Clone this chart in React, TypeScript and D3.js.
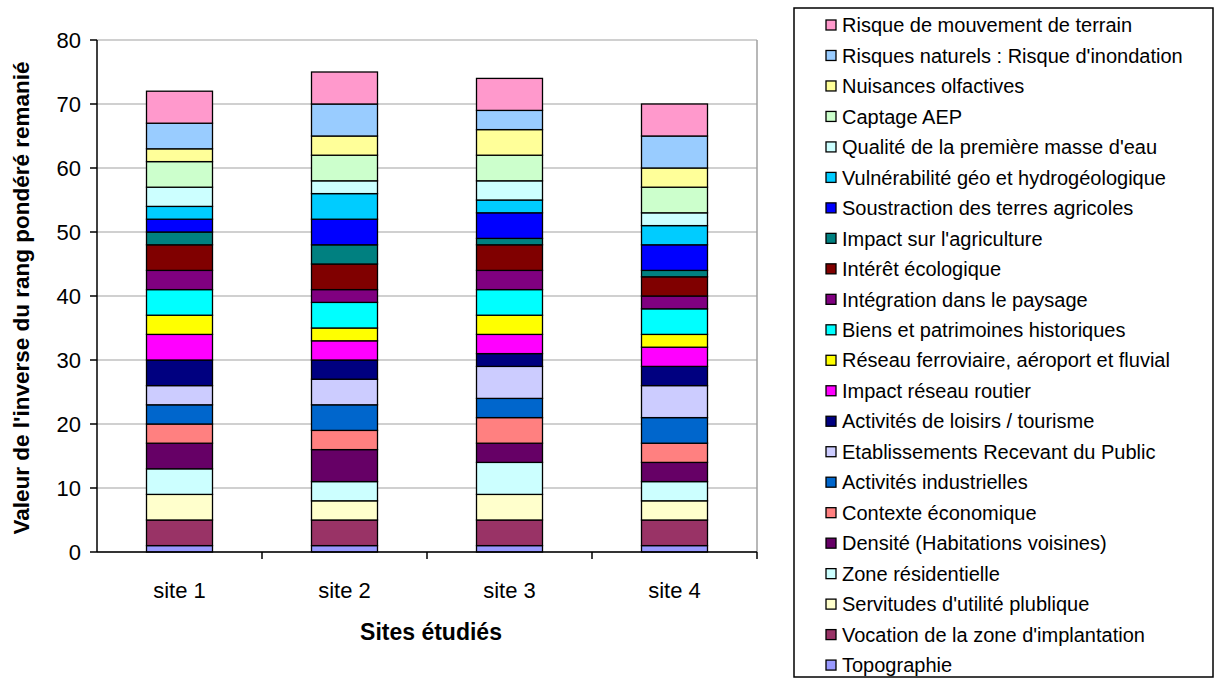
import React from "react";
import * as d3 from "d3";

const sites = ["site 1", "site 2", "site 3", "site 4"];

// bottom-to-top stacking order
const seriesNames = [
  "Topographie",
  "Vocation de la zone d'implantation",
  "Servitudes d'utilité plublique",
  "Zone résidentielle",
  "Densité (Habitations voisines)",
  "Contexte économique",
  "Activités industrielles",
  "Etablissements Recevant du Public",
  "Activités de loisirs / tourisme",
  "Impact réseau routier",
  "Réseau ferroviaire, aéroport et fluvial",
  "Biens et patrimoines historiques",
  "Intégration dans le paysage",
  "Intérêt écologique",
  "Impact sur l'agriculture",
  "Soustraction des terres agricoles",
  "Vulnérabilité géo et hydrogéologique",
  "Qualité de la première masse d'eau",
  "Captage AEP",
  "Nuisances olfactives",
  "Risques naturels : Risque d'inondation",
  "Risque de mouvement de terrain",
];

const seriesColors = [
  "#9999FF", "#993366", "#FFFFCC", "#CCFFFF", "#660066", "#FF8080",
  "#0066CC", "#CCCCFF", "#000080", "#FF00FF", "#FFFF00", "#00FFFF",
  "#800080", "#800000", "#008080", "#0000FF", "#00CCFF", "#CCFFFF",
  "#CCFFCC", "#FFFF99", "#99CCFF", "#FF99CC",
];

// values per series: [site 1, site 2, site 3, site 4]
const site1 = [1, 4, 4, 4, 4, 3, 3, 3, 4, 4, 3, 4, 3, 4, 2, 2, 2, 3, 4, 2, 4, 5];
const site2 = [1, 4, 3, 3, 5, 3, 4, 4, 3, 3, 2, 4, 2, 4, 3, 4, 4, 2, 4, 3, 5, 5];
const site3 = [1, 4, 4, 5, 3, 4, 3, 5, 2, 3, 3, 4, 3, 4, 1, 4, 2, 3, 4, 4, 3, 5];
const site4 = [1, 4, 3, 3, 3, 3, 4, 5, 3, 3, 2, 4, 2, 3, 1, 4, 3, 2, 4, 3, 5, 5];

const yTicks = [0, 10, 20, 30, 40, 50, 60, 70, 80];

const W = 1218;
const H = 678;
const plot = { left: 97, right: 757, top: 40, bottom: 552 };
const FONT = "'Liberation Sans', Arial, sans-serif";

export default function App() {
  const rows = sites.map((s, i) => {
    const vals = [site1, site2, site3, site4][i];
    const r: Record<string, any> = { site: s };
    seriesNames.forEach((n, j) => (r[n] = vals[j]));
    return r;
  });
  const stack = d3.stack<any>().keys(seriesNames)(rows);

  const x = d3
    .scaleBand<string>()
    .domain(sites)
    .range([plot.left, plot.right])
    .paddingInner(0.6)
    .paddingOuter(0.3);
  const band = (plot.right - plot.left) / sites.length;
  const y = d3.scaleLinear().domain([0, 80]).range([plot.bottom, plot.top]);

  const legendTop = 25;
  const legendStep = 30.48;
  const legendOrder = seriesNames.map((n, i) => i).reverse();

  return (
    <div style={{ position: "fixed", left: 0, top: 0 }}>
      <svg width={W} height={H} style={{ display: "block", background: "#fff" }} fontFamily={FONT}>
        {/* gridlines */}
        {yTicks.map((t) => (
          <line key={"g" + t} x1={plot.left} x2={plot.right} y1={y(t)} y2={y(t)} stroke="#C0C0C0" strokeWidth={1.5} />
        ))}
        <line x1={plot.right} x2={plot.right} y1={plot.top} y2={plot.bottom} stroke="#A0A0A0" strokeWidth={1.5} />
        {/* bars */}
        {stack.map((layer, li) => (
          <g key={li}>
            {layer.map((d, di) => (
              <rect
                key={di}
                x={x(sites[di])}
                width={x.bandwidth()}
                y={y(d[1])}
                height={y(d[0]) - y(d[1])}
                fill={seriesColors[li]}
                stroke="#000"
                strokeWidth={1.3}
              />
            ))}
          </g>
        ))}
        {/* axes */}
        <line x1={plot.left} x2={plot.left} y1={plot.top} y2={plot.bottom} stroke="#000" strokeWidth={1.5} />
        <line x1={plot.left} x2={plot.right} y1={plot.bottom} y2={plot.bottom} stroke="#000" strokeWidth={1.5} />
        {yTicks.map((t) => (
          <g key={"t" + t}>
            <line x1={plot.left - 7} x2={plot.left} y1={y(t)} y2={y(t)} stroke="#000" strokeWidth={1.5} />
            <text x={plot.left - 16} y={y(t)} dy="0.36em" textAnchor="end" fontSize={22}>
              {t}
            </text>
          </g>
        ))}
        {sites.map((s, i) => (
          <g key={s}>
            <line
              x1={plot.left + band * (i + 1)}
              x2={plot.left + band * (i + 1)}
              y1={plot.bottom}
              y2={plot.bottom + 7}
              stroke="#000"
              strokeWidth={1.5}
            />
            <text x={(x(s) as number) + x.bandwidth() / 2} y={598} textAnchor="middle" fontSize={22}>
              {s}
            </text>
          </g>
        ))}
        <text x={431} y={640} textAnchor="middle" fontSize={23} fontWeight="bold">
          Sites étudiés
        </text>
        <text
          transform={`translate(29, ${(plot.top + plot.bottom) / 2 + 2}) rotate(-90)`}
          textAnchor="middle"
          fontSize={22.5}
          fontWeight="bold"
        >
          Valeur de l'inverse du rang pondéré remanié
        </text>
        {/* legend */}
        <rect x={794} y={8} width={419} height={669} fill="#fff" stroke="#000" strokeWidth={1.5} />
        {legendOrder.map((si, k) => (
          <g key={si} transform={`translate(826, ${legendTop + k * legendStep})`}>
            <rect x={0} y={-5} width={10} height={10} fill={seriesColors[si]} stroke="#000" strokeWidth={1.3} />
            <text x={16} y={0} dy="0.36em" fontSize={20}>
              {seriesNames[si]}
            </text>
          </g>
        ))}
      </svg>
    </div>
  );
}
